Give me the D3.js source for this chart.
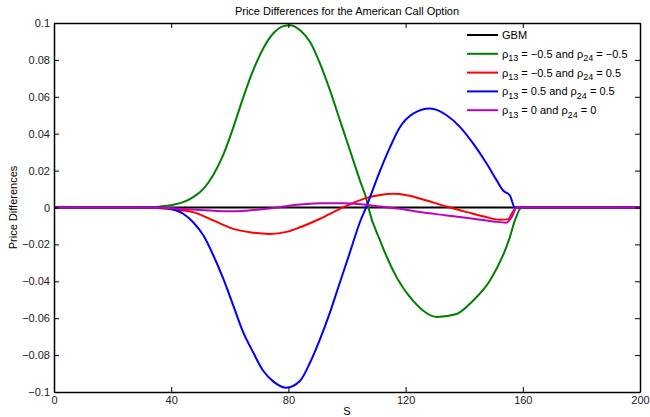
<!DOCTYPE html>
<html>
<head>
<meta charset="utf-8">
<script src="https://cdn.jsdelivr.net/npm/d3@7"></script>
<style>
  body { margin: 0; background: #fff; }
  svg { display: block; font-family: "Liberation Sans", Arial, sans-serif; }
  .tick text { font-size: 11px; fill: #222; }
</style>
</head>
<body>
<div id="chart"></div>
<script>
// S values and price differences
const gbmS = [0, 200]
const gbmV = [0, 0]

const greenS = [0, 32, 36.2, 40.7, 44.1, 47.5, 51.0, 54.4, 57.8, 61.2, 64.6, 68.0, 71.4, 74.8, 78.3, 80.5, 84.0, 87.4, 90.8, 94.2, 97.6, 101.0, 104.4, 106.9, 107.3, 111.3, 117, 122.5, 130.7, 137.4, 143, 148.8, 155.6, 157.3, 159.6, 162, 200]
const greenV = [0, 0, 0.0005, 0.0015, 0.0029, 0.0056, 0.0101, 0.0178, 0.0287, 0.0434, 0.0597, 0.0744, 0.0862, 0.0943, 0.0983, 0.0988, 0.0961, 0.0897, 0.078, 0.0635, 0.0472, 0.031, 0.0147, 0.0029, 0, -0.018, -0.038, -0.0505, -0.0593, -0.0577, -0.0505, -0.0396, -0.016, -0.007, 0, 0, 0]

const redS = [0, 32, 40.7, 47.5, 54.4, 61.2, 66.9, 73.7, 79.4, 84.0, 90.8, 97.6, 100.0, 106.7, 111.3, 115.8, 120.4, 127.2, 134.0, 140.9, 147.7, 152.2, 155.1, 156.2, 157.9, 160, 200]
const redV = [0, 0, -0.0011, -0.0025, -0.007, -0.0116, -0.0134, -0.0143, -0.0132, -0.0107, -0.0061, -0.0007, 0.001, 0.0052, 0.0068, 0.0074, 0.0067, 0.0038, 0.0005, -0.0025, -0.0053, -0.0066, -0.0063, -0.0034, 0, 0, 0]

const blueS = [0, 32, 36.2, 40.7, 44.1, 47.5, 51.0, 54.4, 57.8, 61.2, 64.6, 68.0, 71.4, 75.0, 79.2, 84.0, 87.4, 90.8, 94.2, 97.6, 101.0, 104.4, 106.5, 111.3, 114.7, 118.1, 122.6, 128.3, 134.0, 138.6, 143.1, 147.7, 151.1, 153.3, 155.6, 157.3, 160, 200]
const blueV = [0, 0, 0, -0.0011, -0.0034, -0.008, -0.0152, -0.026, -0.0387, -0.0532, -0.0677, -0.0786, -0.0885, -0.0945, -0.0977, -0.0939, -0.084, -0.0713, -0.0568, -0.0405, -0.0243, -0.008, 0, 0.020, 0.0327, 0.0436, 0.0509, 0.0536, 0.050, 0.0436, 0.0346, 0.0237, 0.0147, 0.0092, 0.0065, 0, 0, 0]

const magentaS = [0, 32.8, 49.8, 60.5, 72.6, 84.0, 91.9, 98.7, 105.6, 111.3, 118.1, 124.9, 134.0, 143.1, 150.0, 154.3, 156.2, 157.9, 160, 200]
const magentaV = [0, 0, -0.0013, -0.0021, -0.0007, 0.0016, 0.0023, 0.0023, 0.0016, 0.0005, -0.0007, -0.0025, -0.0043, -0.0061, -0.0076, -0.0082, -0.0053, 0, 0, 0]

const seriesNames = ["GBM", "green", "red", "blue", "magenta"]
const seriesColors = ["#000000", "#008000", "#ff0000", "#0000ff", "#bf00bf"]
const legendLabels = [
  [["GBM"]],
  [["ρ"], ["13", "sub"], [" = −0.5 and ρ"], ["24", "sub"], [" = −0.5"]],
  [["ρ"], ["13", "sub"], [" = −0.5 and ρ"], ["24", "sub"], [" = 0.5"]],
  [["ρ"], ["13", "sub"], [" = 0.5 and ρ"], ["24", "sub"], [" = 0.5"]],
  [["ρ"], ["13", "sub"], [" = 0 and ρ"], ["24", "sub"], [" = 0"]],
]
const xTicks = [0, 40, 80, 120, 160, 200]
const yTicks = [-0.1, -0.08, -0.06, -0.04, -0.02, 0, 0.02, 0.04, 0.06, 0.08, 0.1]

const zip = (s, v) => s.map((d, i) => ({ s: d, v: v[i] }))
const series = [
  zip(gbmS, gbmV),
  zip(greenS, greenV),
  zip(redS, redV),
  zip(blueS, blueV),
  zip(magentaS, magentaV),
]

const dimensions = {
  width: 650,
  height: 417,
  margin: { top: 23, right: 10, bottom: 25, left: 54 },
}
dimensions.boundedWidth = dimensions.width - dimensions.margin.left - dimensions.margin.right
dimensions.boundedHeight = dimensions.height - dimensions.margin.top - dimensions.margin.bottom

const svg = d3.select("#chart").append("svg")
  .attr("width", dimensions.width)
  .attr("height", dimensions.height)

const bounds = svg.append("g")
  .attr("transform", `translate(${dimensions.margin.left},${dimensions.margin.top})`)

const xScale = d3.scaleLinear().domain([0, 200]).range([0, dimensions.boundedWidth])
const yScale = d3.scaleLinear().domain([-0.1, 0.1]).range([dimensions.boundedHeight, 0])

const fmtY = d => d === 0 ? "0" : (d < 0 ? "−" : "") + d3.format("~g")(Math.abs(d))

// lines
const line = d3.line()
  .x(d => xScale(d.s))
  .y(d => yScale(d.v))
  .curve(d3.curveMonotoneX)

bounds.append("g").selectAll("path")
  .data(series)
  .join("path")
    .attr("d", line)
    .attr("fill", "none")
    .attr("stroke", (d, i) => seriesColors[i])
    .attr("stroke-width", 2)
    .attr("stroke-linejoin", "round")

// axes, MATLAB box style with inward ticks
const tickLen = 5
bounds.append("g")
  .attr("transform", `translate(0,${dimensions.boundedHeight})`)
  .call(d3.axisBottom(xScale).tickValues(xTicks).tickSizeInner(-tickLen).tickSizeOuter(0).tickPadding(4))
bounds.append("g")
  .call(d3.axisTop(xScale).tickValues(xTicks).tickSizeInner(-tickLen).tickSizeOuter(0).tickFormat(""))
bounds.append("g")
  .call(d3.axisLeft(yScale).tickValues(yTicks).tickSizeInner(-tickLen).tickSizeOuter(0).tickPadding(4).tickFormat(fmtY))
bounds.append("g")
  .attr("transform", `translate(${dimensions.boundedWidth},0)`)
  .call(d3.axisRight(yScale).tickValues(yTicks).tickSizeInner(-tickLen).tickSizeOuter(0).tickFormat(""))

bounds.selectAll(".domain").attr("stroke", "#000").attr("stroke-width", 1.5)
bounds.selectAll(".tick line").attr("stroke", "#000")
bounds.selectAll(".tick text").attr("font-family", null).attr("font-size", null)

// labels
svg.append("text")
  .attr("x", dimensions.margin.left + dimensions.boundedWidth / 2)
  .attr("y", 15)
  .attr("text-anchor", "middle")
  .style("font-size", "11px")
  .text("Price Differences for the American Call Option")

svg.append("text")
  .attr("x", dimensions.margin.left + dimensions.boundedWidth / 2)
  .attr("y", 415)
  .attr("text-anchor", "middle")
  .style("font-size", "11px")
  .text("S")

svg.append("text")
  .attr("transform", `translate(17,${dimensions.margin.top + dimensions.boundedHeight / 2}) rotate(-90)`)
  .attr("text-anchor", "middle")
  .style("font-size", "11px")
  .text("Price Differences")

// legend
const legend = svg.append("g")
  .attr("transform", "translate(467,35)")

const entries = legend.selectAll("g")
  .data(seriesNames)
  .join("g")
    .attr("transform", (d, i) => `translate(0,${i * 18.8})`)

entries.append("line")
  .attr("x1", 0)
  .attr("x2", 31)
  .attr("stroke", (d, i) => seriesColors[i])
  .attr("stroke-width", 2)

const labels = entries.append("text")
  .attr("x", 35)
  .attr("y", 4)
  .style("font-size", "11px")

labels.each(function(d, i) {
  const t = d3.select(this)
  let shift = 0
  legendLabels[i].forEach(([str, kind]) => {
    const target = kind === "sub" ? 3.5 : 0
    t.append("tspan")
      .attr("dy", target - shift)
      .style("font-size", kind === "sub" ? "9px" : null)
      .text(str)
    shift = target
  })
})
</script>
</body>
</html>
